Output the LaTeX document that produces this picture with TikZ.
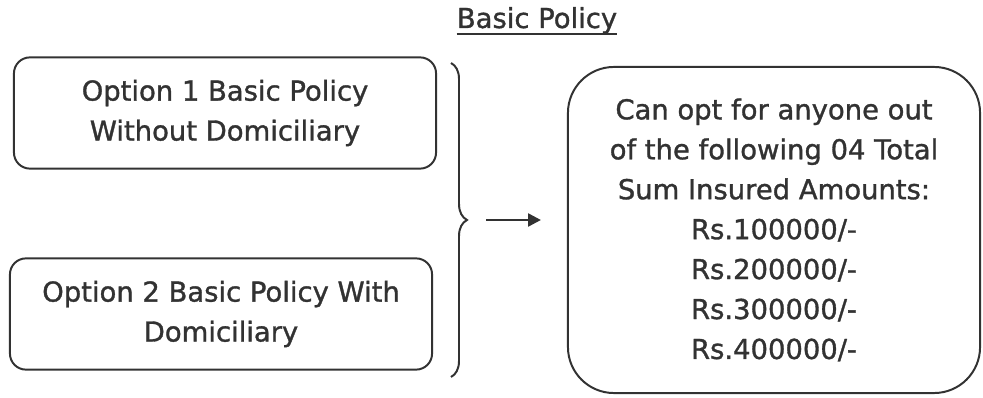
\documentclass[tikz,border=0pt]{standalone}
\usepackage{fontspec}
\setmainfont[FakeBold=1.2]{DejaVu Sans}
\usetikzlibrary{arrows.meta,positioning,decorations.pathreplacing}
\definecolor{scan}{RGB}{50,50,50}
\tikzset{
  >={Triangle[length=3.2mm,width=3.2mm]},
  optbox/.style={draw=scan,line width=1.4pt,rounded corners=#1,align=center,text=scan,
    font=\fontsize{19.5}{28.4}\selectfont,inner sep=0pt},
  optbox/.default=4mm,
  heading/.style={text=scan,font=\fontsize{19.5}{28.4}\selectfont,inner sep=0pt},
  bracket/.style={draw=scan,line width=1.4pt,decorate,decoration={brace,amplitude=4mm}},
  flow/.style={->,line width=1.8pt,draw=scan},
}

\begin{document}
\begin{tikzpicture}[x=0.025cm,y=-0.025cm]
  \useasboundingbox (0,0) rectangle (983,398);
  % title
  \node[heading,anchor=base] (title) at (537,28) {Basic Policy};
  \draw[scan,line width=1.4pt] ([yshift=-1.4mm]title.base west) -- ([yshift=-1.4mm]title.base east);
  % the two options
  \foreach \t/\x/\y [count=\i] in {Option 1 Basic Policy\\Without Domiciliary/225/113,
                                   Option 2 Basic Policy With\\Domiciliary/221/314}{
    \node[optbox,minimum width=10.55cm,minimum height=2.78cm] (opt\i) at (\x,\y) {\t};
  }
  \node[optbox=11.5mm,minimum width=10.3cm,minimum height=8.15cm] (sums) at (774,230)
    {Can opt for anyone out\\of the following 04 Total\\Sum Insured Amounts:\\
     Rs.100000/-\\Rs.200000/-\\Rs.300000/-\\Rs.400000/-};
  % brace and arrow
  \coordinate (brtop) at (451,63);
  \coordinate (brbot) at (451,377);
  \coordinate (brtip) at (467,220);
  \draw[bracket] (brtop) -- (brbot);
  \draw[flow,shorten <=4.75mm,shorten >=6.5mm] (brtip) -- (sums.west |- brtip);
\end{tikzpicture}
\end{document}
